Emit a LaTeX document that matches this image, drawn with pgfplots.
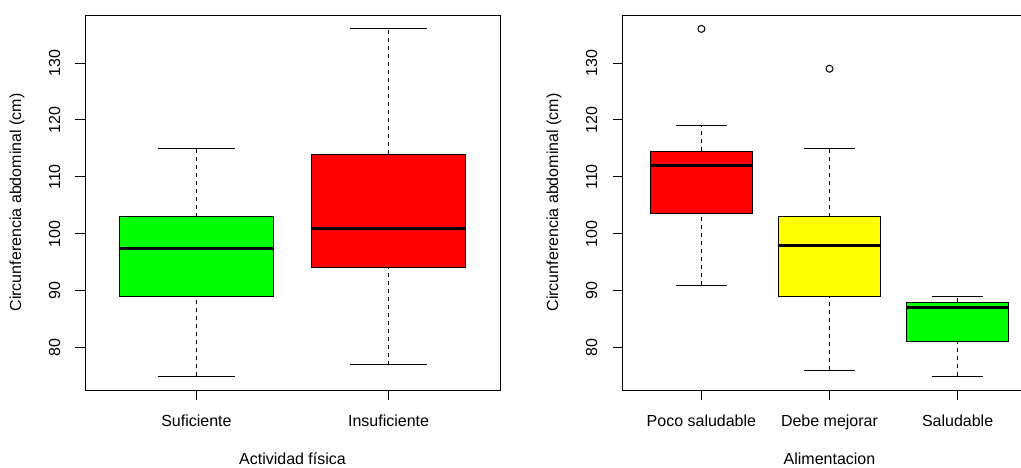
\documentclass[border=0pt]{standalone}
\usepackage{fontspec}
\setmainfont{Liberation Sans}
\usepackage{pgfplots}
\pgfplotsset{compat=1.18}
\definecolor{rgreen}{rgb}{0,1,0}
\definecolor{rred}{rgb}{1,0,0}
\definecolor{ryellow}{rgb}{1,1,0}
\pgfplotsset{
  rbox/.style={
    scale only axis, width=415pt, height=375pt,
    ymin=72.56, ymax=138.44,
    ytick={80,90,100,110,120,130},
    tick pos=left, tick align=outside, major tick length=9.5pt,
    /pgf/number format/assume math mode=true,
    tick label style={font=\fontsize{16}{19}\selectfont, black},
    yticklabel style={rotate=90, anchor=south, inner sep=0pt},
    xticklabel style={anchor=base, inner sep=0pt},
    yticklabel shift=15pt,
    xticklabel shift=27pt,
    axis line style={line width=1pt},
    every tick/.style={line width=1pt, black},
    every axis y label/.style={at={(axis description cs:-0.164,0.5)}, rotate=90, anchor=center, inner sep=0pt, font=\fontsize{16}{19}\selectfont, black},
    every axis x label/.style={at={(axis description cs:0.5,-0.19867)}, anchor=base, inner sep=0pt, font=\fontsize{16}{19}\selectfont, black},
    ylabel={Circunferencia abdominal (cm)},
  },
  wh/.style={black, line width=1pt, dash pattern=on 4pt off 4pt},
  cap/.style={black, line width=1pt},
  bxf/.style={draw=black, line width=1pt, fill=#1},
  med/.style={black, line width=3pt},
  outl/.style={only marks, mark=o, mark size=3.5pt, mark options={solid, draw=black, line width=1pt}},
}
\begin{document}
\begin{tikzpicture}
\useasboundingbox (0,0) rectangle (1021pt,467pt);
\begin{axis}[rbox, at={(85pt,77pt)}, anchor=south west,
  xmin=0.42, xmax=2.58, xtick={1,2}, xticklabels={Suficiente,Insuficiente},
  xlabel={Actividad física}]
% Suficiente: 75, 89, 97.5, 103, 115
\addplot[wh] coordinates {(1,75) (1,89)};
\addplot[wh] coordinates {(1,103) (1,115)};
\addplot[cap] coordinates {(0.8,75) (1.2,75)};
\addplot[cap] coordinates {(0.8,115) (1.2,115)};
\addplot[bxf=rgreen] coordinates {(0.6,89) (1.4,89) (1.4,103) (0.6,103)} -- cycle;
\addplot[med] coordinates {(0.6,97.5) (1.4,97.5)};
% Insuficiente: 77, 94, 101, 114, 136
\addplot[wh] coordinates {(2,77) (2,94)};
\addplot[wh] coordinates {(2,114) (2,136)};
\addplot[cap] coordinates {(1.8,77) (2.2,77)};
\addplot[cap] coordinates {(1.8,136) (2.2,136)};
\addplot[bxf=rred] coordinates {(1.6,94) (2.4,94) (2.4,114) (1.6,114)} -- cycle;
\addplot[med] coordinates {(1.6,101) (2.4,101)};
\end{axis}
\begin{axis}[rbox, at={(622pt,77pt)}, anchor=south west,
  xmin=0.38, xmax=3.62, xtick={1,2,3}, xticklabels={Poco saludable,Debe mejorar,Saludable},
  xlabel={Alimentacion}]
% Poco saludable: 91, 103.5, 112, 114.5, 119; outlier 136
\addplot[wh] coordinates {(1,91) (1,103.5)};
\addplot[wh] coordinates {(1,114.5) (1,119)};
\addplot[cap] coordinates {(0.8,91) (1.2,91)};
\addplot[cap] coordinates {(0.8,119) (1.2,119)};
\addplot[bxf=rred] coordinates {(0.6,103.5) (1.4,103.5) (1.4,114.5) (0.6,114.5)} -- cycle;
\addplot[med] coordinates {(0.6,112) (1.4,112)};
\addplot[outl] coordinates {(1,136)};
% Debe mejorar: 76, 89, 98, 103, 115; outlier 129
\addplot[wh] coordinates {(2,76) (2,89)};
\addplot[wh] coordinates {(2,103) (2,115)};
\addplot[cap] coordinates {(1.8,76) (2.2,76)};
\addplot[cap] coordinates {(1.8,115) (2.2,115)};
\addplot[bxf=ryellow] coordinates {(1.6,89) (2.4,89) (2.4,103) (1.6,103)} -- cycle;
\addplot[med] coordinates {(1.6,98) (2.4,98)};
\addplot[outl] coordinates {(2,129)};
% Saludable: 75, 81, 87, 88, 89
\addplot[wh] coordinates {(3,75) (3,81)};
\addplot[wh] coordinates {(3,88) (3,89)};
\addplot[cap] coordinates {(2.8,75) (3.2,75)};
\addplot[cap] coordinates {(2.8,89) (3.2,89)};
\addplot[bxf=rgreen] coordinates {(2.6,81) (3.4,81) (3.4,88) (2.6,88)} -- cycle;
\addplot[med] coordinates {(2.6,87) (3.4,87)};
\end{axis}
\end{tikzpicture}
\end{document}
